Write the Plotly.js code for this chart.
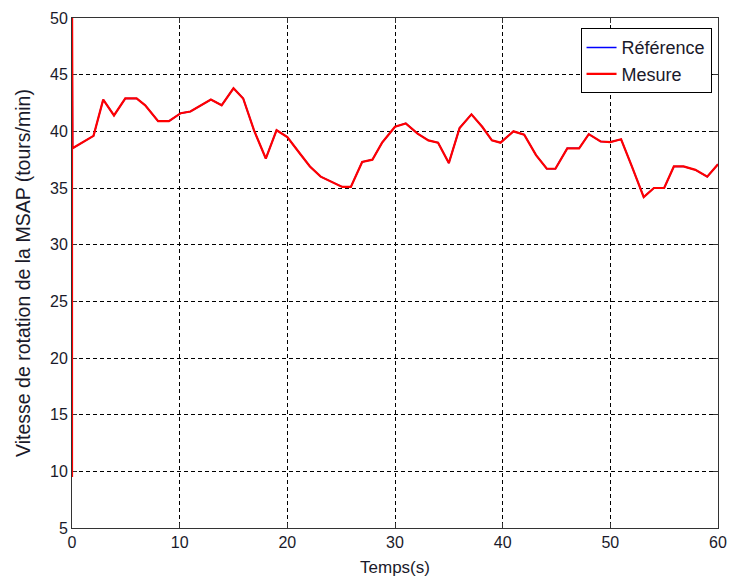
<!DOCTYPE html>
<html>
<head>
<meta charset="utf-8">
<script src="https://cdn.plot.ly/plotly-3.0.1.min.js"></script>
<style>html,body{margin:0;padding:0;background:#fff;}#chart{width:729px;height:583px;}</style>
</head>
<body>
<div id="chart"></div>
<script>
// Time (s)
const temps = [0, 0, 0.05, 2.0, 2.9, 3.9, 4.95, 6.0, 6.8, 8.0, 9.0, 10.1, 11.0, 12.9, 13.9, 15.0, 15.9, 16.9, 18.0, 19.0, 20.0, 21.2, 22.1, 23.1, 25.1, 25.9, 26.95, 27.9, 28.8, 30.0, 31.0, 32.1, 33.1, 34.0, 35.0, 36.0, 37.1, 38.1, 39.0, 39.8, 41.0, 42.0, 43.1, 44.1, 44.9, 46.0, 47.1, 48.0, 49.1, 50.0, 51.0, 52.0, 53.1, 54.05, 55.0, 55.9, 56.8, 57.9, 59.0, 60];
// Measured speed (tours/min)
const mesure = [9.5, 52, 38.5, 39.6, 42.8, 41.4, 42.9, 42.9, 42.3, 40.9, 40.9, 41.6, 41.75, 42.8, 42.3, 43.8, 42.9, 40.1, 37.6, 40.1, 39.5, 38.0, 36.9, 36.0, 35.1, 35.1, 37.3, 37.5, 39.0, 40.4, 40.7, 39.8, 39.2, 39.0, 37.2, 40.3, 41.5, 40.4, 39.2, 39.0, 40.0, 39.7, 37.9, 36.7, 36.7, 38.5, 38.5, 39.75, 39.1, 39.05, 39.3, 36.9, 34.2, 35.0, 35.0, 36.9, 36.9, 36.6, 36.0, 37.1];
// Reference speed: hidden underneath the measure in the original
const reference = mesure;
const xTicks = [0, 10, 20, 30, 40, 50, 60];
const yTicks = [5, 10, 15, 20, 25, 30, 35, 40, 45, 50];

const font = 'Arial, "Liberation Sans", sans-serif';
const traces = [
  {x: temps, y: reference, type: 'scatter', mode: 'lines', name: 'Référence',
   line: {color: '#0000ff', width: 1.5}},
  {x: temps, y: mesure, type: 'scatter', mode: 'lines', name: 'Mesure',
   line: {color: '#ff0000', width: 2.2}}
];
const axisCommon = {
  showgrid: true, gridcolor: '#000', griddash: '4px,3px', gridwidth: 1,
  showline: true, linecolor: '#333', linewidth: 1, mirror: 'ticks',
  ticks: 'inside', ticklen: 5, tickcolor: '#333',
  zeroline: false, layer: 'below traces',
  tickfont: {family: font, size: 16, color: '#1a1a2a'}
};
const layout = {
  width: 729, height: 583,
  margin: {l: 72, r: 11, t: 18, b: 55},
  paper_bgcolor: '#fff', plot_bgcolor: '#fff',
  xaxis: Object.assign({}, axisCommon, {
    range: [0, 60], tickvals: xTicks,
    title: {text: 'Temps(s)', font: {family: font, size: 17, color: '#1a1a2a'}, standoff: 10}
  }),
  yaxis: Object.assign({}, axisCommon, {
    range: [5, 50], tickvals: yTicks,
    title: {text: 'Vitesse de rotation de la MSAP (tours/min)', font: {family: font, size: 19.5, color: '#1a1a2a'}, standoff: 14}
  }),
  legend: {
    x: 0.99, y: 0.98, xanchor: 'right', yanchor: 'top',
    bgcolor: '#fff', bordercolor: '#000', borderwidth: 1,
    font: {family: font, size: 18, color: '#1a1a2a'},
    tracegroupgap: 0
  },
  showlegend: true
};
Plotly.newPlot('chart', traces, layout, {displayModeBar: false, staticPlot: true});
</script>
</body>
</html>
